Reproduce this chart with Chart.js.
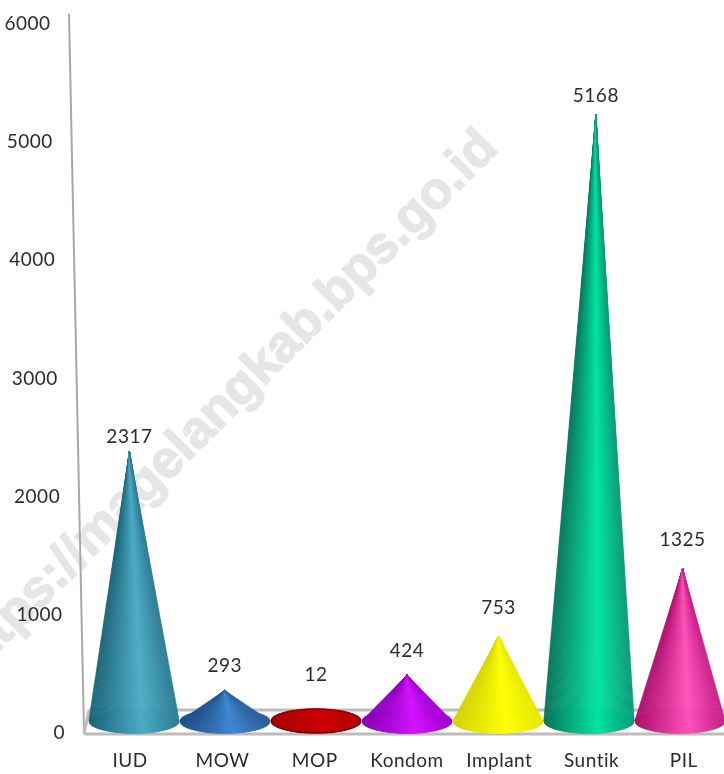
<!DOCTYPE html>
<html>
<head>
<meta charset="utf-8">
<script src="https://cdn.jsdelivr.net/npm/chart.js@4"></script>
<style>
html, body { margin: 0; padding: 0; background: #fff; overflow: hidden; }
canvas { display: block; }
</style>
</head>
<body>
<canvas id="kb-chart" width="740" height="774"></canvas>
<script>
const categories = ['IUD', 'MOW', 'MOP', 'Kondom', 'Implant', 'Suntik', 'PIL'];
const peserta = [2317, 293, 12, 424, 753, 5168, 1325];
const tickStep = 1000;
const axisMax = 6000;

// cone shading: dark side, highlight, right edge
const darkCols = ['#1c6478', '#1f4f86', '#a80000', '#8a00b8', '#d4d400', '#08765a', '#ae0f6e'];
const lightCols = ['#4bacc6', '#4088d4', '#cc0000', '#d414ff', '#ffff00', '#00e4a4', '#ff52ba'];
const edgeCols = ['#2d7c94', '#2a5f9c', '#b00000', '#a200d4', '#e8e800', '#0a9a76', '#c8208a'];
// how far each number sits above its tip
const labelLift = [14, 25, 52, 24, 28, 18, 29];

const textCol = '#2b2b2b';
const fontName = 'Lato, "Open Sans", sans-serif';
const midX = 408;

function hexToRgb(h) {
  return [1, 3, 5].map(i => parseInt(h.substr(i, 2), 16));
}

// colour across the cone, t goes 0..1 from left to right
function shade(i, t) {
  const a = hexToRgb(darkCols[i]), b = hexToRgb(lightCols[i]), c = hexToRgb(edgeCols[i]);
  let from = a, to = b, f = t / 0.6;
  if (t > 0.6) { from = b; to = c; f = (t - 0.6) / 0.4; }
  const m = from.map((v, k) => Math.round(v + (to[k] - v) * f));
  return 'rgb(' + m.join(',') + ')';
}

const watermark = {
  id: 'watermark',
  beforeDraw(chart) {
    const ctx = chart.ctx;
    ctx.save();
    ctx.translate(500, 150);
    ctx.rotate(-Math.PI / 4);
    ctx.font = 'bold 52px "Liberation Sans", sans-serif';
    ctx.fillStyle = '#e6e6e6';
    ctx.strokeStyle = '#e6e6e6';
    ctx.lineWidth = 1.5;
    ctx.textAlign = 'right';
    ctx.fillText('https://magelangkab.bps.go.id', 0, 0);
    ctx.strokeText('https://magelangkab.bps.go.id', 0, 0);
    ctx.restore();
    // Lato is narrower than the original face, open it up a little
    ctx.letterSpacing = '0.5px';
  }
};

const frame = {
  id: 'frame',
  beforeDatasetsDraw(chart) {
    const ctx = chart.ctx, a = chart.chartArea;
    const front = a.bottom + 9, back = a.bottom - 15;
    ctx.save();
    ctx.strokeStyle = '#a8a8a8';
    ctx.lineWidth = 2;
    // back wall axis leans with the perspective
    ctx.beginPath();
    ctx.moveTo(84, front);
    ctx.lineTo(69, a.top - 2);
    ctx.stroke();
    // floor
    ctx.strokeStyle = '#bcbcbc';
    ctx.lineWidth = 3;
    ctx.beginPath();
    ctx.moveTo(84, front);
    ctx.lineTo(chart.width, front);
    ctx.moveTo(89, back);
    ctx.lineTo(chart.width, back);
    ctx.moveTo(84, front);
    ctx.lineTo(89, back);
    ctx.stroke();
    // value axis labels follow the lean of the axis
    const y = chart.scales.y;
    ctx.fillStyle = textCol;
    ctx.font = '19px ' + fontName;
    ctx.textAlign = 'right';
    ctx.textBaseline = 'middle';
    y.ticks.forEach(t => {
      const py = y.getPixelForValue(t.value);
      ctx.fillText(String(t.value), 65 - (a.bottom - py) * 0.0205, py + 8);
    });
    ctx.restore();
  }
};

function drawCone(ctx, i, cx, tipY, rx, cy, ry) {
  const tipX = cx + (cx - midX) * (cy - tipY) * 6.25e-5;
  const grad = ctx.createLinearGradient(cx - rx, 0, cx + rx, 0);
  [0, 0.3, 0.6, 0.8, 1].forEach(t => grad.addColorStop(t, shade(i, t)));
  ctx.fillStyle = grad;
  ctx.beginPath();
  ctx.ellipse(cx, cy, rx, ry, 0, 0, Math.PI * 2);
  ctx.fill();
  if (tipY < cy - ry) {
    // fan of thin slices from the tip round the front of the base
    const steps = 90;
    const rim = u => [cx + rx * u, cy + ry * Math.sqrt(Math.max(0, 1 - u * u))];
    ctx.lineWidth = 0.6;
    for (let s = 0; s < steps; s++) {
      const p0 = rim(-1 + 2 * s / steps), p1 = rim(-1 + 2 * (s + 1) / steps);
      const col = shade(i, (s + 0.5) / steps);
      ctx.fillStyle = col;
      ctx.strokeStyle = col;
      ctx.beginPath();
      ctx.moveTo(tipX, tipY);
      ctx.lineTo(p0[0], p0[1]);
      ctx.lineTo(p1[0], p1[1]);
      ctx.closePath();
      ctx.fill();
      ctx.stroke();
    }
  } else {
    ctx.strokeStyle = '#7d0000';
    ctx.lineWidth = 1.5;
    ctx.beginPath();
    ctx.ellipse(cx, cy, rx - 0.5, ry - 0.5, 0, 0, Math.PI * 2);
    ctx.stroke();
  }
  return tipX;
}

const cones = {
  id: 'cones',
  beforeDatasetDraw(chart, args) {
    const ctx = chart.ctx, a = chart.chartArea;
    const meta = chart.getDatasetMeta(args.index);
    const cy = a.bottom - 4, ry = 12.5;
    ctx.save();
    meta.data.forEach((bar, i) => {
      const cx = midX + (bar.x - midX) * 0.986;
      const tipX = drawCone(ctx, i, cx, bar.y, bar.width / 2, cy, ry);
      const top = Math.min(bar.y, cy - ry);
      ctx.fillStyle = textCol;
      ctx.font = '19px ' + fontName;
      ctx.textAlign = 'center';
      ctx.textBaseline = 'middle';
      ctx.fillText(String(peserta[i]), tipX, top - labelLift[i] + (bar.y > cy - ry ? 18 : 0));
    });
    ctx.restore();
    return false; // cones replace the flat bars
  }
};

const config = {
  type: 'bar',
  data: {
    labels: categories,
    datasets: [{
      label: 'Peserta KB',
      data: peserta,
      backgroundColor: lightCols,
      categoryPercentage: 1,
      barPercentage: 0.98
    }]
  },
  options: {
    responsive: false,
    animation: false,
    layout: { padding: { left: 84, right: 10, top: 16, bottom: 0 } },
    plugins: {
      legend: { display: false },
      tooltip: { enabled: false }
    },
    scales: {
      x: {
        grid: { display: false },
        border: { display: false },
        afterFit: s => { s.height = 49; },
        ticks: { color: textCol, font: { family: fontName, size: 19 }, padding: 16, maxRotation: 0 }
      },
      y: {
        min: 0,
        max: axisMax,
        grid: { display: false },
        border: { display: false },
        afterFit: s => { s.width = 0; },
        ticks: { display: false, stepSize: tickStep }
      }
    }
  },
  plugins: [watermark, frame, cones]
};

new Chart(document.getElementById('kb-chart'), config);
</script>
</body>
</html>
